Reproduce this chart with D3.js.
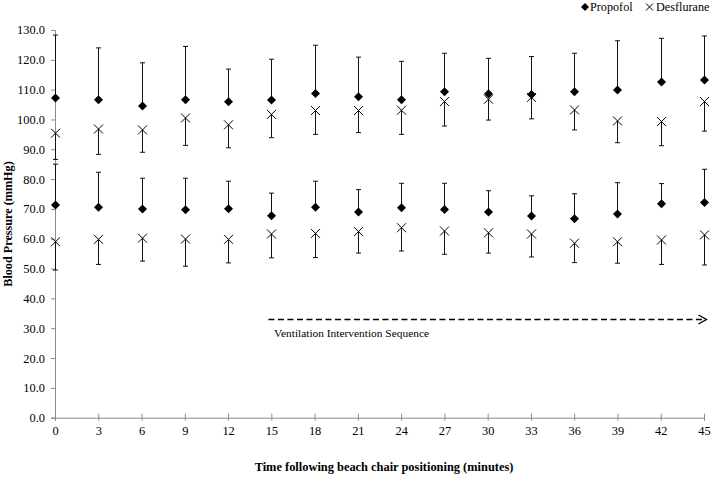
<!DOCTYPE html>
<html><head><meta charset="utf-8">
<script src="https://cdn.jsdelivr.net/npm/d3@7"></script>
<style>body{margin:0;background:#fff}svg{display:block}</style>
</head><body>
<svg id="c" width="712" height="478"></svg>
<script>
const times = [0,3,6,9,12,15,18,21,24,27,30,33,36,39,42,45];
const propSys     = [107.2,106.6,104.5,106.6,105.9,106.5,108.7,107.6,106.6,109.3,108.6,108.4,109.3,109.9,112.6,113.2];
const propSysUp   = [128.3,124.0,119.0,124.5,116.9,120.2,124.9,120.9,119.5,122.2,120.5,121.1,122.2,126.4,127.2,128.0];
const desSys      = [95.4,96.8,96.5,100.5,98.2,101.7,103.0,103.0,103.1,106.0,106.8,107.4,103.2,99.5,99.3,106.0];
const desSysLow   = [86.6,88.3,89.0,91.3,90.5,93.9,95.0,95.6,95.0,97.8,99.8,100.2,96.5,92.2,91.2,96.1];
const propDia     = [71.3,70.6,70.0,69.7,70.1,67.7,70.6,69.0,70.4,69.8,69.0,67.6,66.7,68.3,71.7,72.2];
const propDiaUp   = [85.0,82.3,80.3,80.3,79.3,75.3,79.3,76.5,78.6,78.6,76.1,74.4,75.1,78.8,78.5,83.3];
const desDia      = [59.0,59.8,60.2,59.9,59.8,61.6,61.8,62.4,63.7,62.6,62.0,61.6,58.5,59.0,59.6,61.3];
const desDiaLow   = [49.5,51.4,52.5,50.8,51.9,53.6,53.7,55.2,55.9,54.8,55.2,53.9,52.0,51.8,51.4,51.2];
const yTicks = [0,10,20,30,40,50,60,70,80,90,100,110,120,130];
const seriesNames = ["Propofol","Desflurane"];
const arrowRange = [14.8, 45.1];
const arrowLabel = "Ventilation Intervention Sequence";
const xTitle = "Time following beach chair positioning (minutes)";
const yTitle = "Blood Pressure (mmHg)";

const svg = d3.select("#c");
const font = "'Liberation Serif','Times New Roman',serif";
const x = d3.scaleLinear().domain([0,45]).range([55,704]);
const y = d3.scaleLinear().domain([0,130]).range([417.7,30]);
const axisColor = "#8c8c8c";

// Y axis
const gy = svg.append("g").attr("transform","translate(55,0)")
  .call(d3.axisLeft(y).tickValues(yTicks).tickFormat(d3.format(".1f")).tickSizeOuter(0).tickSize(4).tickPadding(6));
gy.select(".domain").attr("stroke",axisColor);
gy.selectAll(".tick line").attr("stroke",axisColor);
gy.selectAll(".tick text").attr("font-family",font).attr("font-size","12.4px").attr("fill","#000");

// X axis
const gx = svg.append("g").attr("transform","translate(0,417.7)")
  .call(d3.axisBottom(x).tickValues(times).tickSizeOuter(0).tickSize(3).tickPadding(6));
gx.select(".domain").attr("stroke",axisColor);
gx.selectAll(".tick line").attr("stroke",axisColor).attr("y1",-4);
gx.selectAll(".tick text").attr("font-family",font).attr("font-size","12.4px").attr("fill","#000");

// error bars
function errBars(vals, ends){
  const g = svg.append("g").attr("stroke","#111").attr("stroke-width",1);
  times.forEach((t,i)=>{
    const xx = Math.round(x(t))+0.5;
    g.append("line").attr("x1",xx).attr("x2",xx).attr("y1",y(vals[i])).attr("y2",y(ends[i]));
    g.append("line").attr("x1",xx-2.5).attr("x2",xx+2.5).attr("y1",y(ends[i])).attr("y2",y(ends[i]));
  });
}
errBars(propSys, propSysUp);
errBars(desSys, desSysLow);
errBars(propDia, propDiaUp);
errBars(desDia, desDiaLow);

function diamonds(vals){
  svg.append("g").selectAll("path").data(vals).join("path")
    .attr("transform",(d,i)=>`translate(${Math.round(x(times[i]))+0.5},${y(d)})`)
    .attr("d","M0,-4.5L4.5,0L0,4.5L-4.5,0Z").attr("fill","#000");
}
function crosses(vals){
  svg.append("g").selectAll("path").data(vals).join("path")
    .attr("transform",(d,i)=>`translate(${Math.round(x(times[i]))+0.5},${y(d)})`)
    .attr("d","M-4.5,-4.5L4.5,4.5M-4.5,4.5L4.5,-4.5").attr("stroke","#000").attr("stroke-width",1).attr("fill","none");
}
diamonds(propSys); diamonds(propDia);
crosses(desSys); crosses(desDia);

// Ventilation arrow
const ay = 319.5;
svg.append("line").attr("x1",x(arrowRange[0])).attr("x2",x(arrowRange[1])-1).attr("y1",ay).attr("y2",ay)
  .attr("stroke","#000").attr("stroke-width",1.5).attr("stroke-dasharray","6,3.5");
const ax = x(arrowRange[1])+1;
svg.append("path").attr("d",`M${ax-8},${ay-4.5}L${ax},${ay}L${ax-8},${ay+4.5}`)
  .attr("stroke","#000").attr("stroke-width",1.4).attr("fill","none");
svg.append("text").attr("x",274).attr("y",337).attr("font-family",font).attr("font-size","11.4px").text(arrowLabel);

// Legend
const lg = svg.append("g");
lg.append("path").attr("d","M585,3L589,7L585,11L581,7Z").attr("fill","#000");
lg.append("text").attr("x",590).attr("y",11).attr("font-family",font).attr("font-size","12.2px").text(seriesNames[0]);
lg.append("path").attr("d","M646,3.5L653,10.5M646,10.5L653,3.5").attr("stroke","#000").attr("fill","none");
lg.append("text").attr("x",656).attr("y",11).attr("font-family",font).attr("font-size","12.2px").text(seriesNames[1]);

// Titles
svg.append("text").attr("x",384).attr("y",471).attr("text-anchor","middle").attr("font-family",font)
  .attr("font-weight","bold").attr("font-size","12.4px").text(xTitle);
svg.append("text").attr("transform","translate(12,224) rotate(-90)").attr("text-anchor","middle").attr("font-family",font)
  .attr("font-weight","bold").attr("font-size","12.2px").text(yTitle);
</script>
</body></html>
